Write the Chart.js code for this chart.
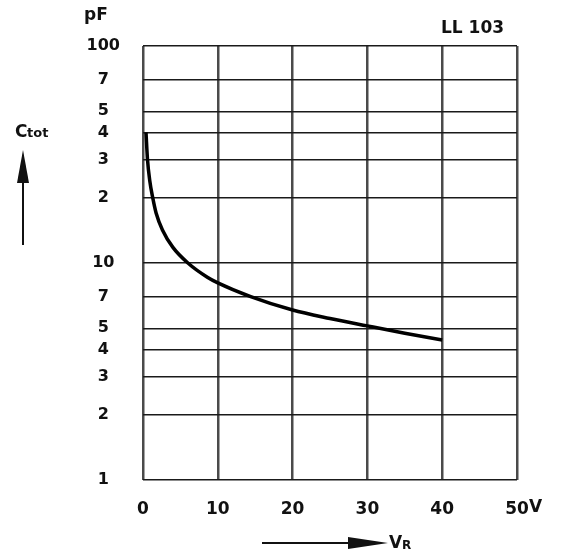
<!DOCTYPE html>
<html>
<head>
<meta charset="utf-8">
<script src="https://cdn.jsdelivr.net/npm/chart.js@4/dist/chart.umd.min.js"></script>
<style>
  html, body { margin: 0; padding: 0; background: #fff; }
  #wrap { width: 561px; height: 554px; }
</style>
</head>
<body>
<div id="wrap"><canvas id="grafico"></canvas></div>
<script>
    // reverse voltage (V) vs total capacitance (pF)
    const tensao = [0.4, 0.6, 0.9, 1.3, 1.75, 2.6, 4.0, 6.0, 8.6, 10, 14.4, 20, 25, 30, 35, 40];
    const capacitancia = [40, 30, 24, 20, 17, 14.2, 11.8, 10, 8.6, 8.1, 7.0, 6.07, 5.55, 5.13, 4.75, 4.42];

    const ticksY = [1, 2, 3, 4, 5, 7, 10, 20, 30, 40, 50, 70, 100];
    const labelsY = ['1', '2', '3', '4', '5', '7', '10', '2', '3', '4', '5', '7', '100'];
    const ticksX = [0, 10, 20, 30, 40, 50];
    const labelsX = ['0', '10', '20', '30', '40', '50'];

    const fonte = "'DejaVu Sans', Verdana, sans-serif";

    /* textos e setas fora do grafico */
    const extras = {
        id: 'extras',
        afterDraw(chart) {
            const c = chart.ctx;
            const xs = chart.scales.x;
            c.save();
            c.fillStyle = '#111';
            c.strokeStyle = '#111';
            c.textBaseline = 'middle';
            c.textAlign = 'left';

            // unidade do eixo x, logo depois do "50"
            c.font = 'bold 17px ' + fonte;
            c.fillText('V', xs.getPixelForValue(50) + 12, 508);

            c.font = 'bold 17px ' + fonte;
            c.fillText('pF', 84, 16);
            c.fillText('LL 103', 441, 29);

            // Ctot
            c.fillText('C', 15, 133);
            c.font = 'bold 13px ' + fonte;
            c.fillText('tot', 27, 134);

            // seta para cima
            c.lineWidth = 2;
            c.beginPath();
            c.moveTo(23, 245);
            c.lineTo(23, 175);
            c.stroke();
            c.beginPath();
            c.moveTo(23, 150);
            c.lineTo(17, 183);
            c.lineTo(29, 183);
            c.closePath();
            c.fill();

            // seta para a direita
            c.beginPath();
            c.moveTo(262, 543);
            c.lineTo(355, 543);
            c.stroke();
            c.beginPath();
            c.moveTo(388, 543);
            c.lineTo(348, 537);
            c.lineTo(348, 549);
            c.closePath();
            c.fill();

            // VR
            c.font = 'bold 17px ' + fonte;
            c.fillText('V', 389, 544);
            c.font = 'bold 12px ' + fonte;
            c.fillText('R', 402, 546);
            c.restore();
        }
    };

    const ctx = document.getElementById('grafico');

    let chart = new Chart(ctx, {
        type: 'scatter',
        data: {
            datasets: [
                {
                    label: 'Ctot',
                    data: tensao.map((v, i) => ({ x: v, y: capacitancia[i] })),
                    showLine: true,
                    borderColor: '#000',
                    borderWidth: 3.5,
                    pointRadius: 0,
                    cubicInterpolationMode: 'monotone',
                    fill: false
                }
            ]
        },
        options: {
            responsive: true,
            maintainAspectRatio: false,
            animation: false,
            layout: {
                padding: { top: 46, right: 44, left: 0, bottom: 0 }
            },
            plugins: {
                legend: { display: false },
                tooltip: { enabled: false }
            },
            scales: {
                x: {
                    type: 'linear',
                    min: 0,
                    max: 50,
                    afterFit: s => { s.height = 74; },
                    afterBuildTicks: s => { s.ticks = ticksX.map(v => ({ value: v })); },
                    border: { display: false },
                    grid: {
                        color: '#4a4a4a',
                        lineWidth: 2.5,
                        drawTicks: false
                    },
                    ticks: {
                        padding: 19,
                        color: '#111',
                        font: { family: fonte, size: 17, weight: 'bold' },
                        callback: (v) => labelsX[ticksX.indexOf(v)]
                    }
                },
                y: {
                    type: 'logarithmic',
                    min: 1,
                    max: 100,
                    afterFit: s => { s.width = 143; },
                    afterBuildTicks: s => { s.ticks = ticksY.map(v => ({ value: v })); },
                    border: { display: false },
                    grid: {
                        color: '#1a1a1a',
                        lineWidth: 1.5,
                        drawTicks: false
                    },
                    ticks: {
                        padding: 23,
                        crossAlign: 'center',
                        autoSkip: false,
                        color: '#111',
                        font: { family: fonte, size: 16, weight: 'bold' },
                        callback: (v) => labelsY[ticksY.indexOf(v)]
                    }
                }
            }
        },
        plugins: [extras]
    });
</script>
</body>
</html>
